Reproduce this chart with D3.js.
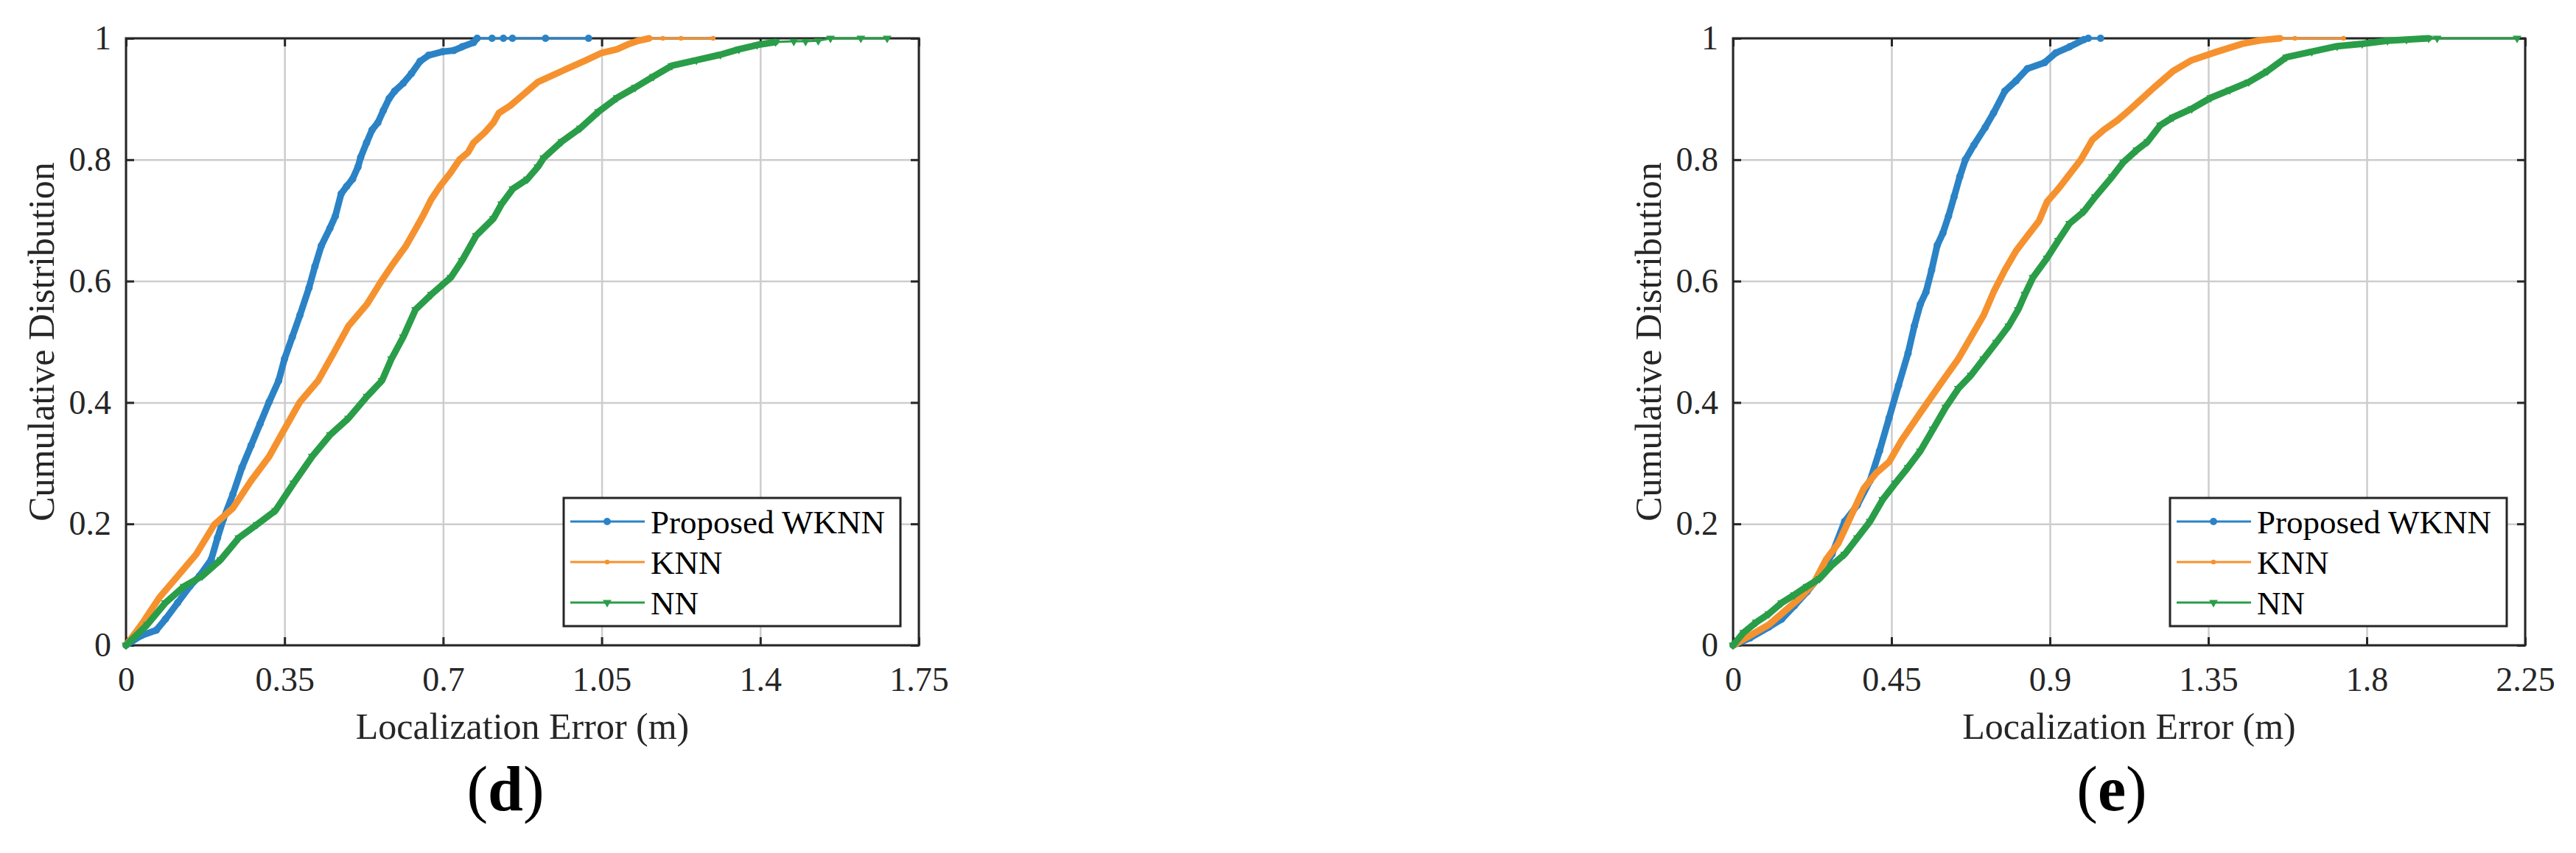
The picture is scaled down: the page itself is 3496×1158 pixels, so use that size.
<!DOCTYPE html>
<html>
<head>
<meta charset="utf-8">
<script src="https://cdn.jsdelivr.net/npm/d3@7"></script>
<style>
body { margin: 0; background: #fff; }
svg text { font-family: "Liberation Serif", "Times New Roman", serif; }
</style>
</head>
<body>
<svg id="chart"></svg>
<script>
// series names (legend order)
const seriesNames = ["Proposed WKNN", "KNN", "NN"];

// tick values
const yTicks = [0, 0.2, 0.4, 0.6, 0.8, 1];
const xTicksD = [0, 0.35, 0.7, 1.05, 1.4, 1.75];
const xTicksE = [0, 0.45, 0.9, 1.35, 1.8, 2.25];

// panel (d): [error (m), cumulative probability]
const wknnD = [[0,0],[0.034,0.016],[0.067,0.025],[0.087,0.043],[0.114,0.07],[0.141,0.097],[0.162,0.114],[0.188,0.141],[0.202,0.177],[0.215,0.208],[0.236,0.249],[0.256,0.293],[0.276,0.329],[0.296,0.365],[0.316,0.401],[0.337,0.436],[0.35,0.472],[0.367,0.508],[0.384,0.544],[0.404,0.589],[0.417,0.624],[0.431,0.658],[0.45,0.687],[0.462,0.707],[0.475,0.744],[0.487,0.756],[0.5,0.768],[0.512,0.788],[0.518,0.804],[0.531,0.828],[0.543,0.849],[0.556,0.861],[0.568,0.881],[0.581,0.901],[0.593,0.913],[0.612,0.926],[0.63,0.942],[0.649,0.962],[0.668,0.972],[0.699,0.978],[0.724,0.98],[0.742,0.986],[0.767,0.993],[0.775,1]];
const wknnDTail = [[0.808,1],[0.833,1],[0.853,1],[0.926,1],[1.021,1]];

const knnD = [[0,0],[0.034,0.034],[0.074,0.079],[0.114,0.114],[0.155,0.15],[0.195,0.199],[0.236,0.226],[0.276,0.271],[0.316,0.311],[0.343,0.347],[0.384,0.401],[0.424,0.436],[0.458,0.481],[0.491,0.526],[0.532,0.562],[0.562,0.598],[0.587,0.626],[0.618,0.658],[0.637,0.683],[0.655,0.707],[0.674,0.735],[0.693,0.756],[0.717,0.779],[0.736,0.8],[0.755,0.812],[0.767,0.828],[0.792,0.845],[0.811,0.861],[0.823,0.877],[0.848,0.889],[0.867,0.901],[0.892,0.917],[0.909,0.928],[0.962,0.946],[1.016,0.964],[1.05,0.976],[1.084,0.982],[1.111,0.991],[1.131,0.996],[1.155,1]];
const knnDTail = [[1.185,1],[1.225,1],[1.296,1]];

const nnD = [[0,0],[0.047,0.034],[0.087,0.07],[0.128,0.097],[0.168,0.114],[0.209,0.141],[0.249,0.177],[0.289,0.199],[0.33,0.222],[0.37,0.267],[0.411,0.311],[0.451,0.347],[0.491,0.374],[0.532,0.41],[0.565,0.436],[0.586,0.472],[0.612,0.508],[0.639,0.553],[0.674,0.578],[0.717,0.606],[0.742,0.634],[0.773,0.675],[0.811,0.703],[0.829,0.727],[0.854,0.752],[0.886,0.768],[0.909,0.788],[0.922,0.803],[0.962,0.83],[1.003,0.852],[1.043,0.879],[1.084,0.902],[1.124,0.919],[1.164,0.937],[1.205,0.955],[1.259,0.964],[1.312,0.973],[1.353,0.982],[1.393,0.989],[1.434,0.994]];
const nnDTail = [[1.474,0.995],[1.5,0.995],[1.528,0.996],[1.555,1],[1.622,1],[1.68,1]];

// panel (e)
const wknnE = [[0,0],[0.048,0.012],[0.102,0.03],[0.138,0.043],[0.174,0.065],[0.21,0.088],[0.246,0.114],[0.281,0.15],[0.317,0.204],[0.353,0.231],[0.389,0.271],[0.416,0.32],[0.443,0.374],[0.47,0.428],[0.497,0.481],[0.515,0.526],[0.532,0.562],[0.548,0.582],[0.564,0.618],[0.58,0.659],[0.596,0.679],[0.612,0.707],[0.628,0.739],[0.644,0.772],[0.66,0.8],[0.684,0.824],[0.716,0.853],[0.74,0.877],[0.772,0.913],[0.804,0.93],[0.836,0.95],[0.885,0.96],[0.917,0.976],[0.956,0.986],[0.997,0.998]];
const wknnETail = [[1.009,1],[1.044,1]];

const knnE = [[0,0],[0.048,0.016],[0.102,0.034],[0.156,0.061],[0.192,0.079],[0.228,0.101],[0.264,0.141],[0.299,0.168],[0.335,0.213],[0.371,0.258],[0.407,0.284],[0.443,0.302],[0.479,0.338],[0.532,0.383],[0.586,0.428],[0.64,0.472],[0.676,0.508],[0.712,0.544],[0.74,0.582],[0.772,0.618],[0.804,0.65],[0.837,0.675],[0.869,0.699],[0.892,0.731],[0.924,0.752],[0.956,0.776],[0.988,0.8],[1.021,0.833],[1.053,0.849],[1.092,0.865],[1.124,0.881],[1.147,0.893],[1.196,0.919],[1.25,0.946],[1.303,0.964],[1.375,0.978],[1.447,0.991],[1.501,0.997],[1.554,1]];
const knnETail = [[1.596,1],[1.734,1]];

const nnE = [[0,0],[0.03,0.021],[0.066,0.038],[0.102,0.052],[0.138,0.07],[0.174,0.083],[0.21,0.097],[0.246,0.11],[0.281,0.132],[0.317,0.15],[0.353,0.177],[0.389,0.204],[0.425,0.24],[0.461,0.267],[0.497,0.293],[0.532,0.32],[0.568,0.356],[0.604,0.392],[0.64,0.423],[0.676,0.445],[0.712,0.472],[0.748,0.499],[0.783,0.526],[0.81,0.553],[0.829,0.578],[0.852,0.606],[0.892,0.638],[0.924,0.667],[0.956,0.695],[0.997,0.715],[1.029,0.739],[1.077,0.772],[1.109,0.796],[1.147,0.816],[1.178,0.83],[1.214,0.857],[1.25,0.87],[1.303,0.884],[1.357,0.902],[1.411,0.915],[1.465,0.928],[1.518,0.946],[1.572,0.969],[1.644,0.978],[1.716,0.987],[1.787,0.991],[1.859,0.996],[1.913,0.998],[1.976,1]];
const nnETail = [[2.0,1],[2.227,1]];

const colors = ["#2b83c6", "#f5922f", "#2a9d48"];
const markers = ["circle", "dot", "triangle"];

const W = 3496, H = 1158;
const svg = d3.select("#chart").attr("width", W).attr("height", H);

class CdfPanel {
    constructor(opts) {
        this.o = opts;
        this.top = 52;
        this.innerH = 824;
        this.innerW = opts.right - opts.left;
    }

    marker(sel, kind, color) {
        if (kind === "circle") {
            sel.append("circle").attr("r", 5).attr("fill", color);
        } else if (kind === "dot") {
            sel.append("circle").attr("r", 3.2).attr("fill", color);
        } else {
            sel.append("path")
                .attr("d", d3.symbol(d3.symbolTriangle, 60)())
                .attr("transform", "rotate(180)")
                .attr("fill", color);
        }
    }

    draw() {
        const o = this.o;
        const innerW = this.innerW, innerH = this.innerH;
        const fmt = d => String(d);

        const x = d3.scaleLinear().domain([0, o.xMax]).range([0, innerW]);
        const y = d3.scaleLinear().domain([0, 1]).range([innerH, 0]);

        const g = svg.append("g").attr("transform", `translate(${o.left},${this.top})`);

        // grid
        g.append("g").attr("transform", `translate(0,${innerH})`)
            .call(d3.axisBottom(x).tickValues(o.xTicks).tickSize(-innerH).tickFormat(""))
            .call(a => a.select(".domain").remove())
            .selectAll("line").attr("stroke", "#cdcdcd").attr("stroke-width", 2.5);
        g.append("g")
            .call(d3.axisLeft(y).tickValues(yTicks).tickSize(-innerW).tickFormat(""))
            .call(a => a.select(".domain").remove())
            .selectAll("line").attr("stroke", "#cdcdcd").attr("stroke-width", 2.5);

        // axes with inward ticks on all four sides
        const styleAxis = a => {
            a.attr("font-family", null).attr("font-size", null);
            a.select(".domain").remove();
            a.selectAll("line").attr("stroke", "#262626").attr("stroke-width", 3);
            a.selectAll("text").attr("font-size", 46).attr("fill", "#262626");
        };
        g.append("g").attr("transform", `translate(0,${innerH})`)
            .call(d3.axisBottom(x).tickValues(o.xTicks).tickSize(-11).tickSizeOuter(0).tickPadding(29).tickFormat(fmt))
            .call(styleAxis);
        g.append("g")
            .call(d3.axisTop(x).tickValues(o.xTicks).tickSize(-11).tickSizeOuter(0).tickFormat(""))
            .call(styleAxis);
        g.append("g")
            .call(d3.axisLeft(y).tickValues(yTicks).tickSize(-11).tickSizeOuter(0).tickPadding(20).tickFormat(fmt))
            .call(styleAxis);
        g.append("g").attr("transform", `translate(${innerW},0)`)
            .call(d3.axisRight(y).tickValues(yTicks).tickSize(-11).tickSizeOuter(0).tickFormat(""))
            .call(styleAxis);

        g.append("rect")
            .attr("width", innerW).attr("height", innerH)
            .attr("fill", "none").attr("stroke", "#262626").attr("stroke-width", 3);

        // curves
        const line = d3.line().x(d => x(d[0])).y(d => y(d[1]));
        o.series.forEach((s, i) => {
            const tail = o.tails[i];
            const all = s.concat(tail);
            g.append("path").datum(all)
                .attr("d", line).attr("fill", "none")
                .attr("stroke", colors[i]).attr("stroke-width", 3);
            g.append("path").datum(s)
                .attr("d", line).attr("fill", "none")
                .attr("stroke", colors[i]).attr("stroke-width", 9)
                .attr("stroke-linejoin", "round").attr("stroke-linecap", "round");
            const m = g.append("g").selectAll("g").data(all).enter().append("g")
                .attr("transform", d => `translate(${x(d[0])},${y(d[1])})`);
            this.marker(m, markers[i], colors[i]);
        });

        // axis titles
        svg.append("text")
            .attr("x", o.left + innerW / 2).attr("y", 1003)
            .attr("text-anchor", "middle").attr("font-size", 50).attr("fill", "#262626")
            .text("Localization Error (m)");
        svg.append("text")
            .attr("transform", `translate(${o.left - 98},${this.top + innerH / 2}) rotate(-90)`)
            .attr("text-anchor", "middle").attr("font-size", 50).attr("fill", "#262626")
            .text("Cumulative Distribution");

        // panel label
        const lab = svg.append("text")
            .attr("x", o.labelX).attr("y", 1100)
            .attr("text-anchor", "middle").attr("font-size", 86).attr("fill", "#000");
        lab.append("tspan").text("(");
        lab.append("tspan").attr("font-weight", "bold").text(o.label);
        lab.append("tspan").text(")");

        // legend
        const lw = 457, lh = 174;
        const lx = innerW - 25 - lw, ly = innerH - 26 - lh;
        const lg = g.append("g").attr("transform", `translate(${lx},${ly})`);
        lg.append("rect").attr("width", lw).attr("height", lh)
            .attr("fill", "#fff").attr("stroke", "#262626").attr("stroke-width", 3);
        seriesNames.forEach((name, i) => {
            const ry = 32 + i * 55;
            lg.append("line").attr("x1", 9).attr("x2", 110).attr("y1", ry).attr("y2", ry)
                .attr("stroke", colors[i]).attr("stroke-width", 3);
            const mk = lg.append("g").attr("transform", `translate(59,${ry})`);
            this.marker(mk, markers[i], colors[i]);
            lg.append("text").attr("x", 118).attr("y", ry + 16)
                .attr("font-size", 45).attr("fill", "#000").text(name);
        });
    }
}

new CdfPanel({
    left: 171, right: 1247, xMax: 1.75, xTicks: xTicksD,
    series: [wknnD, knnD, nnD], tails: [wknnDTail, knnDTail, nnDTail],
    label: "d", labelX: 686
}).draw();

new CdfPanel({
    left: 2352, right: 3427, xMax: 2.25, xTicks: xTicksE,
    series: [wknnE, knnE, nnE], tails: [wknnETail, knnETail, nnETail],
    label: "e", labelX: 2866
}).draw();
</script>
</body>
</html>
